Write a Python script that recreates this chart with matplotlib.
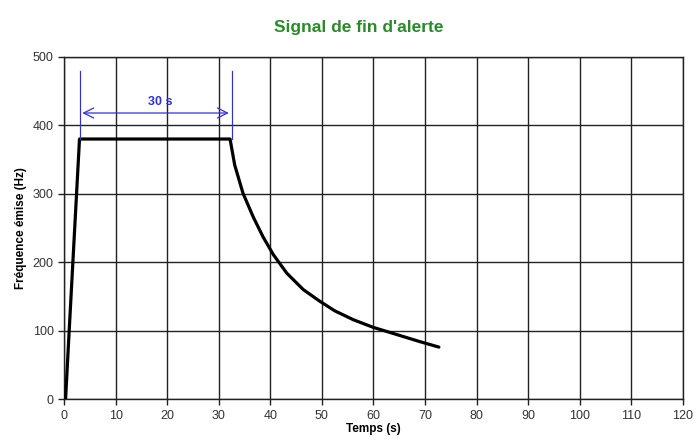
import matplotlib
matplotlib.use("Agg")
from matplotlib import pyplot as plt

# Courbe
temps = [0.3, 1.0, 3.0, 32.2, 33.1, 34.7, 36.7, 38.6, 40.6, 43.2, 46.4, 49.6,
	52.5, 56.1, 59.9, 63.8, 69.0, 72.7]
frequence = [0, 100, 380, 380, 342, 301, 266, 237, 211, 184, 160, 143,
	129, 116, 105, 96, 84, 76]

# Annotation des 30 s
debut_alerte = 3.0
fin_alerte = 32.5
x_ticks = list(range(0, 121, 10))
y_ticks = list(range(0, 501, 100))

plt.rcParams["font.family"] = ["Liberation Sans", "DejaVu Sans"]

fig = plt.figure(figsize=(6.96, 4.41), dpi=100)
ax = fig.add_axes([0.092, 0.095, 0.889, 0.776])

ax.plot(temps, frequence, color="black", linewidth=2.3, solid_joinstyle="round",
	solid_capstyle="round", zorder=3)

ax.set_xlim(0, 120)
ax.set_ylim(0, 500)
ax.set_xticks(x_ticks)
ax.set_yticks(y_ticks)
ax.grid(True, color="#222222", linewidth=1.0)
ax.set_axisbelow(True)
for spine in ax.spines.values():
	spine.set_color("#222222")
	spine.set_linewidth(1.0)
ax.tick_params(axis="both", labelsize=9, length=4, width=1, color="#222222", labelcolor="#333333")

ax.set_xlabel("Temps (s)", fontsize=8.5, fontweight="bold", labelpad=1)
ax.set_ylabel("Fréquence émise (Hz)", fontsize=8.5, fontweight="bold", labelpad=4)
fig.text(0.516, 0.938, "Signal de fin d'alerte", color="#2a8a2a", fontsize=12.5,
	fontweight="bold", ha="center", va="center")

# repères bleus
blue = "#3030e0"
for x in (debut_alerte, fin_alerte):
	ax.plot([x, x], [380, 480], color=blue, linewidth=0.9, zorder=4)
ax.annotate("", xy=(debut_alerte, 418), xytext=(fin_alerte, 418),
	arrowprops=dict(arrowstyle="<->", color=blue, lw=0.9, mutation_scale=18), zorder=4)
ax.text((debut_alerte + fin_alerte) / 2 + 1, 426, "30 s", color=blue, fontsize=9,
	fontweight="bold", ha="center", va="bottom", zorder=4)

fig.savefig("out.png", dpi=100)
plt.close(fig)
